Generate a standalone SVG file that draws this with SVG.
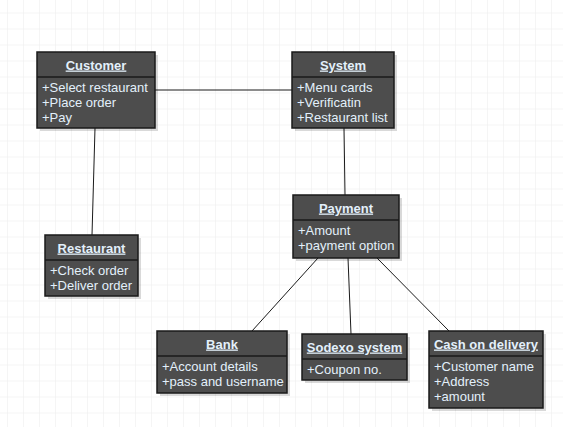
<svg xmlns="http://www.w3.org/2000/svg" width="563" height="427" viewBox="0 0 563 427">
<defs>
<pattern id="grid" x="7" y="12.5" width="16" height="16" patternUnits="userSpaceOnUse">
<path d="M0 0H16M0 0V16" fill="none" stroke="#ebebeb" stroke-width="1"/>
</pattern>
<style>
.box{fill:#4d4d4d;stroke:#1a1a1a;stroke-width:1.5}
.sh{fill:#000;opacity:0.15}
.sep{stroke:#1a1a1a;stroke-width:1.5}
.t{font-family:"Liberation Sans",Arial,sans-serif;font-size:13px;fill:#e3f0fb}
.h{font-weight:bold;text-anchor:middle;text-decoration:underline}
.c{stroke:#1a1a1a;stroke-width:1;fill:none}
</style>
</defs>
<rect width="563" height="427" fill="#ffffff"/>
<rect width="563" height="427" fill="url(#grid)"/>
<g id="connectors">
<line class="c" x1="155" y1="90" x2="292" y2="90"/>
<line class="c" x1="95" y1="128" x2="92" y2="235"/>
<line class="c" x1="344" y1="128" x2="345" y2="195"/>
<line class="c" x1="318" y1="258" x2="252" y2="331"/>
<line class="c" x1="348" y1="258" x2="351" y2="334"/>
<line class="c" x1="377" y1="258" x2="449" y2="331"/>
</g>
<g id="customer">
<rect class="sh" x="40" y="55" width="118" height="76"/>
<rect class="box" x="37" y="52" width="118" height="76"/>
<line class="sep" x1="37" y1="77" x2="155" y2="77"/>
<text class="t h" x="96" y="69.5">Customer</text>
<text class="t" x="42" y="92">+Select restaurant</text>
<text class="t" x="42" y="107">+Place order</text>
<text class="t" x="42" y="122">+Pay</text>
</g>
<g id="system">
<rect class="sh" x="295" y="55" width="102" height="76"/>
<rect class="box" x="292" y="52" width="102" height="76"/>
<line class="sep" x1="292" y1="77" x2="394" y2="77"/>
<text class="t h" x="343" y="69.5">System</text>
<text class="t" x="297" y="92">+Menu cards</text>
<text class="t" x="297" y="107">+Verificatin</text>
<text class="t" x="297" y="122">+Restaurant list</text>
</g>
<g id="restaurant">
<rect class="sh" x="48" y="238" width="93" height="61"/>
<rect class="box" x="45" y="235" width="93" height="61"/>
<line class="sep" x1="45" y1="260" x2="138" y2="260"/>
<text class="t h" x="91.5" y="252.5">Restaurant</text>
<text class="t" x="50" y="275">+Check order</text>
<text class="t" x="50" y="290">+Deliver order</text>
</g>
<g id="payment">
<rect class="sh" x="296" y="198" width="106" height="63"/>
<rect class="box" x="293" y="195" width="106" height="63"/>
<line class="sep" x1="293" y1="220" x2="399" y2="220"/>
<text class="t h" x="346" y="212.5">Payment</text>
<text class="t" x="298" y="235">+Amount</text>
<text class="t" x="298" y="250">+payment option</text>
</g>
<g id="bank">
<rect class="sh" x="160" y="334" width="130" height="62"/>
<rect class="box" x="157" y="331" width="130" height="62"/>
<line class="sep" x1="157" y1="356" x2="287" y2="356"/>
<text class="t h" x="222" y="348.5">Bank</text>
<text class="t" x="162" y="371">+Account details</text>
<text class="t" x="162" y="386">+pass and username</text>
</g>
<g id="sodexo">
<rect class="sh" x="305" y="337" width="105" height="46"/>
<rect class="box" x="302" y="334" width="105" height="46"/>
<line class="sep" x1="302" y1="359" x2="407" y2="359"/>
<text class="t h" x="354.5" y="351.5">Sodexo system</text>
<text class="t" x="307" y="374">+Coupon no.</text>
</g>
<g id="cash">
<rect class="sh" x="432" y="334" width="114" height="77"/>
<rect class="box" x="429" y="331" width="114" height="77"/>
<line class="sep" x1="429" y1="356" x2="543" y2="356"/>
<text class="t h" x="486" y="348.5">Cash on delivery</text>
<text class="t" x="434" y="371">+Customer name</text>
<text class="t" x="434" y="386">+Address</text>
<text class="t" x="434" y="401">+amount</text>
</g>
</svg>
